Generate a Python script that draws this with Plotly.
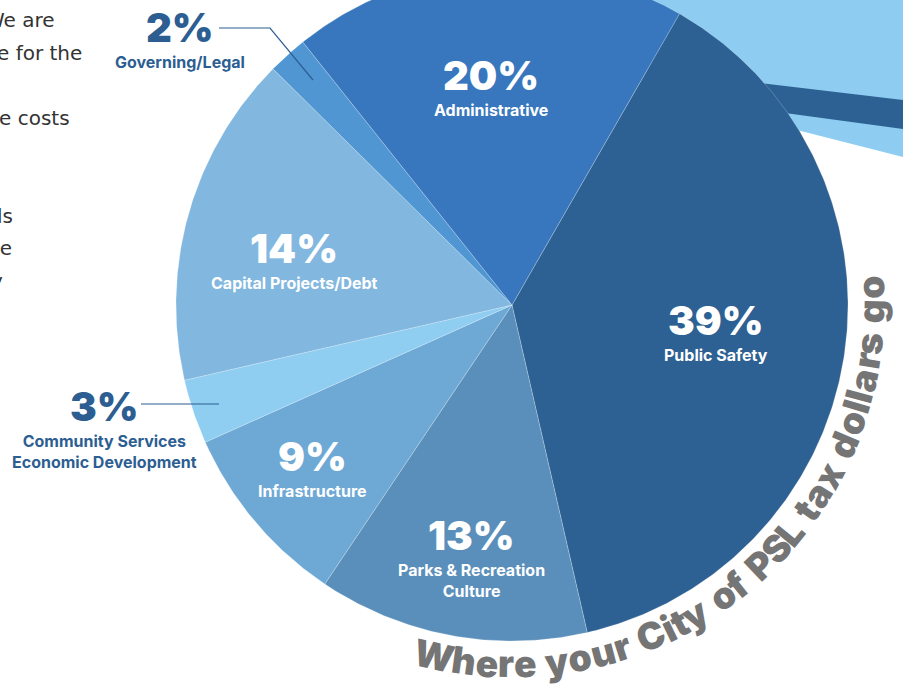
import numpy as np
import plotly.graph_objects as go

# ---------------- data ----------------
categories = ["Public Safety", "Parks & Recreation Culture", "Infrastructure",
              "Community Services Economic Development", "Capital Projects/Debt",
              "Governing/Legal", "Administrative"]
pct_labels = ["39%", "13%", "9%", "3%", "14%", "2%", "20%"]
# slice sizes as drawn in the picture (share of the circle, %)
slice_values = [38.1, 13.0, 8.9, 3.1, 16.0, 1.9, 19.0]
name_lines = [["Public Safety"], ["Parks & Recreation", "Culture"], ["Infrastructure"],
              ["Community Services", "Economic Development"], ["Capital Projects/Debt"],
              ["Governing/Legal"], ["Administrative"]]

arc_title = "Where your City of PSL tax dollars go"
body_lines = ["We are", "e for the", "e costs", "ls", "he", "y"]

# ---------------- styles / layout ----------------
W, H = 903, 686
CX, CY, R = 512, 305, 336
START = 29.9  # degrees clockwise from 12 o'clock where the first slice begins
colors = ["#2d6193", "#5b8fbb", "#6ea8d5", "#8fcdf1", "#82b7df", "#5096d2", "#3877bd"]
DARK = "#2c5e92"
FONT = "Inter"
PCT_SIZE, NAME_SIZE = 40, 16
ASC, DESC = 0.969, 0.242  # Inter ascent / descent (em)

# label placement: (x centre, baseline of the percent figure, inside the pie?)
label_pos = [
    (716, 334.0, True),
    (471, 549.0, True),
    (312, 470.0, True),
    (104, 420.0, False),
    (294, 262.0, True),
    (180, 41.0, False),
    (491, 89.0, True),
]

fig = go.Figure()

# background decoration (upper right swoosh)
fig.add_shape(type="path", layer="below", line_width=0, fillcolor="#8ecdf1",
              path="M 560,0 L 903,0 L 903,157 L 797,130 L 690,103 Z")
fig.add_shape(type="path", layer="below", line_width=0, fillcolor="#2d6193",
              path="M 690,75 L 760,83 L 903,100 L 903,129 L 785,113 L 690,100 Z")

# pie slices
total = sum(slice_values)
cum = START
for name, val, col in zip(categories, slice_values, colors):
    a0 = cum
    a1 = cum + val / total * 360.0
    cum = a1
    n = max(int((a1 - a0) * 2), 2) + 1
    t = np.radians(np.linspace(a0, a1, n))
    xs = np.concatenate([[CX], CX + R * np.sin(t), [CX]])
    ys = np.concatenate([[CY], CY - R * np.cos(t), [CY]])
    fig.add_trace(go.Scatter(x=xs, y=ys, mode="lines", fill="toself", fillcolor=col,
                             line=dict(color="rgba(255,255,255,0.28)", width=0.8),
                             hoverinfo="text", text=f"{name}: {val}%", showlegend=False))

ann = []
for pct, lines, (lx, b1, inside) in zip(pct_labels, name_lines, label_pos):
    c = "white" if inside else DARK
    ann.append(dict(x=lx, y=b1 - ASC * PCT_SIZE, text=pct, showarrow=False, borderpad=0,
                    xanchor="center", yanchor="top",
                    font=dict(family=FONT, size=PCT_SIZE, color=c, weight=900)))
    ann.append(dict(x=lx, y=b1 + DESC * PCT_SIZE + 0.6, text="<br>".join(lines),
                    showarrow=False, borderpad=0, xanchor="center", yanchor="top",
                    align="center",
                    font=dict(family=FONT, size=NAME_SIZE, color=c, weight=700)))

# leader lines for outside labels
fig.add_shape(type="path", path="M 219,28 L 270,28 L 313,80", line=dict(color=DARK, width=1.2))
fig.add_shape(type="line", x0=141, y0=404, x1=219, y1=404, line=dict(color=DARK, width=1.2))

# curved title along the rim
cw = {"W": .98, "h": .63, "e": .59, "r": .41, " ": .27, "y": .56, "o": .61, "u": .63,
      "C": .71, "i": .27, "t": .38, "f": .37, "P": .63, "S": .60, "L": .50, "a": .63,
      "x": .56, "d": .64, "l": .27, "s": .50, "g": .64}
ws = np.array([cw.get(ch, .55) for ch in arc_title])
centers = np.cumsum(ws) - ws / 2
PHI0, PHI1, RT = -12.6, 92.8, 359
phis = PHI0 + (centers - centers[0]) / (centers[-1] - centers[0]) * (PHI1 - PHI0)
for ch, ph in zip(arc_title, phis):
    if ch == " ":
        continue
    pr = np.radians(ph)
    ann.append(dict(x=CX + RT * np.sin(pr), y=CY + RT * np.cos(pr), text=ch, showarrow=False,
                    xanchor="center", yanchor="middle", textangle=-ph,
                    font=dict(family=FONT, size=37, color="#757575", weight=900)))

# cropped body text on the left
body_right = [57, 84, 72, 15, 14, 5]
body_base = [27, 60, 125, 223, 255, 288]
for txt, xr, yb in zip(body_lines, body_right, body_base):
    ann.append(dict(x=xr, y=yb - 7, text=txt, showarrow=False, xanchor="right", yanchor="middle",
                    font=dict(family="DejaVu Sans", size=20, color="#333333")))

fig.update_layout(
    width=W, height=H, margin=dict(l=0, r=0, t=0, b=0),
    paper_bgcolor="white", plot_bgcolor="white", showlegend=False,
    xaxis=dict(range=[0, W], visible=False, fixedrange=True),
    yaxis=dict(range=[H, 0], visible=False, fixedrange=True),
    annotations=ann,
)

fig.write_html("out.html")
